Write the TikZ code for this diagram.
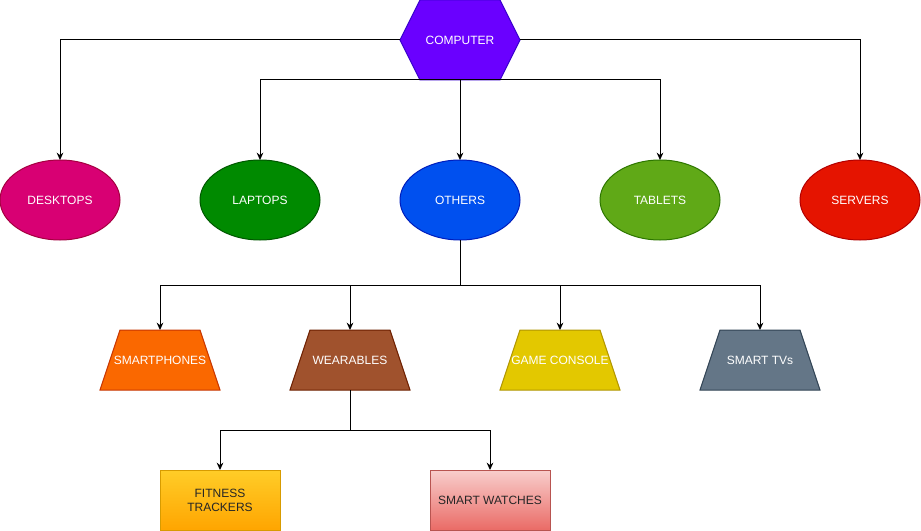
\documentclass[tikz,border=0pt]{standalone}
\usepackage{fontspec}
\setmainfont{Liberation Sans}
\usepackage{xcolor}
\usetikzlibrary{shapes.geometric,arrows.meta,positioning,backgrounds}

\definecolor{hexfill}{HTML}{6A00FF}\definecolor{hexline}{HTML}{3700CC}
\definecolor{deskfill}{HTML}{D80073}\definecolor{deskline}{HTML}{A50040}
\definecolor{lapfill}{HTML}{008A00}\definecolor{lapline}{HTML}{005700}
\definecolor{othfill}{HTML}{0050EF}\definecolor{othline}{HTML}{001DBC}
\definecolor{tabfill}{HTML}{60A917}\definecolor{tabline}{HTML}{2D7600}
\definecolor{servfill}{HTML}{E51400}\definecolor{servline}{HTML}{B20000}
\definecolor{phonefill}{HTML}{FA6800}\definecolor{phoneline}{HTML}{C73500}
\definecolor{wearfill}{HTML}{A0522D}\definecolor{wearline}{HTML}{6D1F00}
\definecolor{gamefill}{HTML}{E3C800}\definecolor{gameline}{HTML}{B09500}
\definecolor{tvfill}{HTML}{647687}\definecolor{tvline}{HTML}{314354}
\definecolor{trackertop}{HTML}{FFCD28}\definecolor{trackerbot}{HTML}{FFA500}
\definecolor{trackerline}{HTML}{D79B00}
\definecolor{watchtop}{HTML}{F8CECC}\definecolor{watchbot}{HTML}{EA6B66}
\definecolor{watchline}{HTML}{B85450}

\begin{document}
\begin{tikzpicture}[
    x=0.75pt, y=-0.75pt,
    node distance=60pt,
    font=\fontsize{9}{10.5}\selectfont,
    outer sep=0pt,
    oval/.style 2 args={ellipse, fill=#1, draw=#2, line width=0.75pt,
      minimum width=90pt, minimum height=60pt, inner sep=0pt, text=white},
    trap/.style={rectangle, minimum width=90pt, minimum height=45pt,
      inner sep=0pt, text=white},
    trapline/.style 2 args={fill=#1, draw=#2, line width=0.75pt},
    card/.style={rectangle, top color=#1top, bottom color=#1bot, draw=#1line,
      line width=0.75pt, minimum width=90pt, minimum height=45pt,
      align=center, text=black!85},
    arr/.style={-{Stealth[length=5.5pt,width=5pt]}, line width=0.75pt, black},
  ]
    \useasboundingbox (0,0) rectangle (921,531);

    % Root
    \node[minimum width=90pt, minimum height=60pt, inner sep=0pt, text=white]
      (computer) at (460,40) {COMPUTER};

    % Device groups
    \node[oval={othfill}{othline}, below=of computer] (others) {OTHERS};
    \node[oval={lapfill}{lapline}, left=of others] (laptops) {LAPTOPS};
    \node[oval={deskfill}{deskline}, left=of laptops] (desktops) {DESKTOPS};
    \node[oval={tabfill}{tabline}, right=of others] (tablets) {TABLETS};
    \node[oval={servfill}{servline}, right=of tablets] (servers) {SERVERS};

    % Others
    \node[trap] (phones) at (160,360) {SMARTPHONES};
    \node[trap] (wearables) at (350,360) {WEARABLES};
    \node[trap] (consoles) at (560,360) {GAME CONSOLE};
    \node[trap] (tvs) at (760,360) {SMART TVs};

    % Wearables
    \node[card=tracker] (trackers) at (220,500) {FITNESS\\TRACKERS};
    \node[card=watch] (watches) at (490,500) {SMART WATCHES};

    % Shapes behind the texts
    \begin{scope}[on background layer]
      \filldraw[trapline={hexfill}{hexline}]
        ([xshift=15pt]computer.north west) -- ([xshift=-15pt]computer.north east)
        -- (computer.east) -- ([xshift=-15pt]computer.south east)
        -- ([xshift=15pt]computer.south west) -- (computer.west) -- cycle;
      \foreach \n/\c in {phones/phone, wearables/wear, consoles/game, tvs/tv}
        \filldraw[trapline={\c fill}{\c line}]
          ([xshift=15pt]\n.north west) -- ([xshift=-15pt]\n.north east)
          -- (\n.south east) -- (\n.south west) -- cycle;
    \end{scope}

    \coordinate[below=33.75pt of others.south] (obus);
    \coordinate[below=30pt of wearables.south] (wbus);

    % Arrows
    \draw[arr] (computer.west) -| (desktops.north);
    \draw[arr] (computer.east) -| (servers.north);
    \draw[arr] (computer.south) -| (laptops.north);
    \draw[arr] (computer.south) -| (tablets.north);
    \draw[arr] (computer.south) -- (others.north);
    \draw[arr] (others.south) -- (obus) -| (phones.north);
    \draw[arr] (obus) -| (wearables.north);
    \draw[arr] (obus) -| (consoles.north);
    \draw[arr] (obus) -| (tvs.north);
    \draw[arr] (wearables.south) -- (wbus) -| (trackers.north);
    \draw[arr] (wbus) -| (watches.north);
  \end{tikzpicture}
\end{document}
